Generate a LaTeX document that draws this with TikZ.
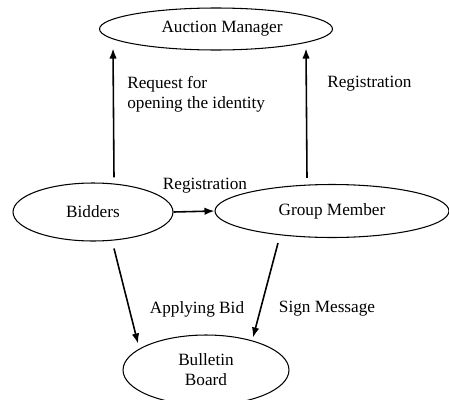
\documentclass[tikz,border=0pt]{standalone}
\usepackage{fontspec}
\setmainfont{Liberation Serif}
\usetikzlibrary{calc}
\usetikzlibrary{positioning}
\usetikzlibrary{shapes.geometric}
\usetikzlibrary{arrows.meta}
\tikzset{
	>={Latex[length=0.2cm,width=0.15cm]},
	party/.style={
		ellipse,
		draw=black, line width=0.6pt,
		inner sep=0pt,
		text centered,
		align=center},
	line/.style={draw, line width=0.9pt, ->},
	flowlabel/.style={inner sep=0pt, align=left},
}

\begin{document}
\begin{tikzpicture}
	[x=0.02cm, y=-0.02cm, font=\fontsize{9.8}{11.4}\selectfont]
	\useasboundingbox (0,0) rectangle (449,399);
	% the four parties
	\node[party, minimum width=4.66cm, minimum height=0.84cm] (manager) at (216,29) {\hspace{0.24cm}Auction Manager};
	\node[party, minimum width=3.2cm, minimum height=1.16cm] (bidders) at (93,212) {Bidders};
	\node[party, minimum width=4.68cm, minimum height=1.06cm] (member) at (332,211) {Group Member};
	\node[party, minimum width=3.32cm, minimum height=1.4cm] (board) at (206,370) {Bulletin\\Board};
	
	% connectors
	\path[line] ($(bidders.north)+(21,-5)$) -- ($(manager.south)+(-103,-2)$);
	\path[line] ($(member.north)+(-25,-6)$) -- ($(manager.south)+(90,-2)$);
	\path[line] (bidders.east) -- (member.west);
	\path[line] ($(bidders.south)+(21,7)$) -- ($(board.north)+(-68,9)$);
	\path[line] ($(member.south)+(-54,5)$) -- ($(board.north)+(47,3)$);
	
	% labels
	\node[flowlabel, anchor=west] (request) at (127,94) {Request for\\opening the identity};
	\node[flowlabel, anchor=west] (regtop) at (327,84) {Registration};
	\node[flowlabel] (regmid) at (205,186) {Registration};
	\node[flowlabel] (applying) at (197,309) {Applying Bid};
	\node[flowlabel] (sign) at (327,309) {Sign Message};
\end{tikzpicture}
\end{document}
